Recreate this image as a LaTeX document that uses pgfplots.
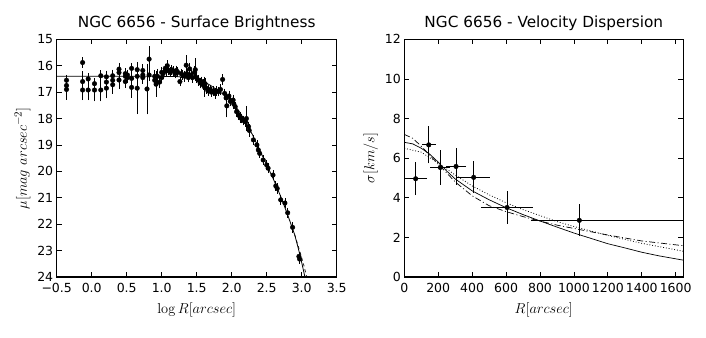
\documentclass[border=0pt]{standalone}
\usepackage[no-math]{fontspec}
\setmainfont{DejaVu Sans}
\usepackage{pgfplots}
\pgfplotsset{compat=1.18}
\usepackage{pgfplotstable}

% surface brightness profile: log R, mu, error
\pgfplotstableread{
r mu e
-0.36 16.55 0.12
-0.36 16.75 0.12
-0.36 16.90 0.30
-0.13 15.88 0.12
-0.13 16.60 0.30
-0.13 16.92 0.30
-0.05 16.50 0.15
-0.05 16.92 0.30
0.04 16.68 0.12
0.04 16.92 0.35
0.13 16.38 0.12
0.13 16.92 0.35
0.21 16.42 0.15
0.21 16.62 0.25
0.21 16.85 0.30
0.30 16.38 0.15
0.30 16.55 0.15
0.30 16.72 0.25
0.39 16.13 0.15
0.39 16.26 0.15
0.39 16.54 0.25
0.48 16.30 0.12
0.48 16.40 0.12
0.48 16.60 0.15
0.51 16.35 0.12
0.51 16.45 0.12
0.57 16.10 0.12
0.57 16.48 0.20
0.57 16.82 0.30
0.65 16.15 0.15
0.65 16.40 0.15
0.65 16.85 0.90
0.73 16.18 0.15
0.73 16.35 0.12
0.73 16.45 0.15
0.79 16.88 0.88
0.82 15.75 0.40
0.82 16.35 0.15
0.90 16.40 0.15
0.90 16.55 0.15
0.92 16.70 0.40
0.94 16.40 0.20
0.97 16.62 0.15
1.00 16.25 0.12
1.00 16.45 0.12
1.02 16.30 0.12
1.05 16.10 0.10
1.06 16.20 0.12
1.08 16.00 0.12
1.10 16.18 0.10
1.12 16.25 0.10
1.14 16.15 0.10
1.17 16.20 0.10
1.19 16.30 0.10
1.21 16.18 0.10
1.23 16.25 0.10
1.26 16.60 0.10
1.28 16.30 0.10
1.30 16.35 0.10
1.33 16.40 0.12
1.35 15.98 0.30
1.36 16.30 0.10
1.38 16.45 0.10
1.40 16.12 0.15
1.42 16.35 0.12
1.44 16.45 0.12
1.47 16.25 0.15
1.48 16.15 0.35
1.50 16.45 0.12
1.53 16.55 0.12
1.55 16.65 0.12
1.57 16.60 0.10
1.59 16.72 0.12
1.61 16.80 0.30
1.62 16.68 0.12
1.64 16.85 0.12
1.66 16.95 0.12
1.69 16.90 0.10
1.71 17.00 0.10
1.74 16.95 0.10
1.76 17.05 0.12
1.78 16.95 0.10
1.81 16.98 0.10
1.84 16.90 0.12
1.87 16.52 0.12
1.90 17.05 0.10
1.92 17.22 0.12
1.93 17.52 0.35
1.96 17.15 0.12
1.98 17.35 0.10
2.02 17.30 0.12
2.03 17.45 0.12
2.05 17.55 0.10
2.07 17.74 0.10
2.10 17.87 0.10
2.12 17.95 0.12
2.14 18.00 0.10
2.17 18.08 0.10
2.20 18.13 0.10
2.21 18.00 0.40
2.24 18.31 0.10
2.25 18.45 0.15
2.31 18.81 0.10
2.36 19.00 0.10
2.38 19.19 0.10
2.40 19.32 0.10
2.45 19.57 0.10
2.50 19.76 0.10
2.52 19.88 0.10
2.59 20.14 0.10
2.63 20.55 0.10
2.65 20.65 0.12
2.70 21.08 0.10
2.76 21.20 0.10
2.80 21.57 0.10
2.87 22.12 0.12
2.96 23.22 0.10
2.97 23.32 0.10
}\sbdata

% velocity dispersion: R, sigma, x errors (minus, plus), y error
\pgfplotstableread{
x y xm xp ey
67 4.96 55 55 0.71
144 6.67 27 27 0.82
212 5.53 46 46 0.76
305 5.58 47 47 0.82
409 5.03 83 83 0.69
606 3.51 138 138 0.70
1032 2.86 271 700 0.69
}\vddata

\pgfplotsset{
  panel/.style={
    scale only axis,
    height=237.7pt,
    anchor=south west,
    axis line style={line width=1.1pt},
    tick style={black, line width=0.8pt},
    major tick length=5pt,
    tick align=inside,
    tick label style={font=\fontsize{12.5}{14}\selectfont, inner ysep=1pt},
    xticklabel style={yshift=-5pt},
    title style={font=\fontsize{15.3}{17}\selectfont,
      at={(0.5,1)}, anchor=base, yshift=6pt},
    label style={font=\fontsize{15}{17}\selectfont},
    xlabel style={at={(axis description cs:0.5,0)}, anchor=base, yshift=-36pt},
    /pgf/number format/assume math mode=true,
    /pgf/number format/1000 sep={},
    scaled ticks=false,
  },
  pts/.style={
    only marks, black, mark=*, mark size=2.3pt,
    error bars/y dir=both, error bars/y explicit,
    error bars/error bar style={line width=0.8pt, black},
    error bars/error mark options={mark size=2.2pt, line width=0.8pt, black},
  },
}

\begin{document}
\begin{tikzpicture}
\useasboundingbox (0pt,0pt) rectangle (706pt,337pt);

\begin{axis}[panel,
  at={(56.7pt,60pt)}, width=280pt,
  xmin=-0.5, xmax=3.5, ymin=15, ymax=24, y dir=reverse,
  xtick={-0.5,0,0.5,1,1.5,2,2.5,3,3.5},
  xticklabels={−0.5,0.0,0.5,1.0,1.5,2.0,2.5,3.0,3.5},
  ytick={15,16,...,24},
  title={NGC 6656 - Surface Brightness},
  xlabel={$\log R[arcsec]$},
  ylabel={$\mu[mag\ arcsec^{-2}]$},
]
\addplot[black, line width=0.8pt] coordinates {
(-0.5,16.4) (0.9,16.4) (1.2,16.41) (1.4,16.45) (1.5,16.5) (1.6,16.6)
(1.7,16.75) (1.8,16.93) (1.9,17.12) (2.0,17.37) (2.1,17.7) (2.2,18.13)
(2.3,18.63) (2.4,19.2) (2.5,19.75) (2.6,20.32) (2.7,20.95) (2.8,21.65)
(2.9,22.4) (2.95,22.9) (3.0,23.45) (3.05,24.05)
};
\addplot[black, line width=0.7pt, dashed] coordinates {
(2.9,22.4) (2.97,23.0) (3.03,23.55) (3.08,24.1)
};
\addplot[pts] table[x=r, y=mu, y error=e] {\sbdata};
\end{axis}

\begin{axis}[panel,
  at={(404.3pt,60pt)}, width=279pt,
  xmin=0, xmax=1645, ymin=0, ymax=12,
  xtick={0,200,...,1600},
  ytick={0,2,...,12},
  title={NGC 6656 - Velocity Dispersion},
  xlabel={$R[arcsec]$},
  ylabel={$\sigma[km/s]$},
]
\addplot[black, line width=0.7pt] coordinates {
(0,6.8) (50,6.72) (100,6.5) (150,6.2) (200,5.8) (250,5.35) (300,4.95)
(400,4.35) (500,3.9) (600,3.5) (700,3.15) (800,2.83) (900,2.52)
(1000,2.22) (1100,1.95) (1200,1.68) (1300,1.47) (1400,1.25) (1500,1.07)
(1645,0.85)
};
\addplot[black, line width=0.7pt, dash pattern=on 6pt off 2.5pt on 1pt off 2.5pt] coordinates {
(0,7.2) (50,7.0) (100,6.6) (150,6.15) (200,5.7) (300,4.8) (400,4.1)
(500,3.6) (600,3.3) (700,3.05) (800,2.82) (900,2.62) (1000,2.45)
(1200,2.12) (1400,1.82) (1645,1.58)
};
\addplot[black, line width=0.8pt, dotted] coordinates {
(0,6.5) (100,6.3) (200,5.75) (300,5.15) (400,4.6) (500,4.15) (600,3.75)
(700,3.4) (800,3.1) (900,2.8) (1000,2.55) (1200,2.1) (1400,1.7)
(1645,1.3)
};
\addplot[pts, error bars/x dir=both, error bars/x explicit]
  table[x=x, y=y, x error minus=xm, x error plus=xp, y error=ey] {\vddata};
\end{axis}
\end{tikzpicture}
\end{document}
